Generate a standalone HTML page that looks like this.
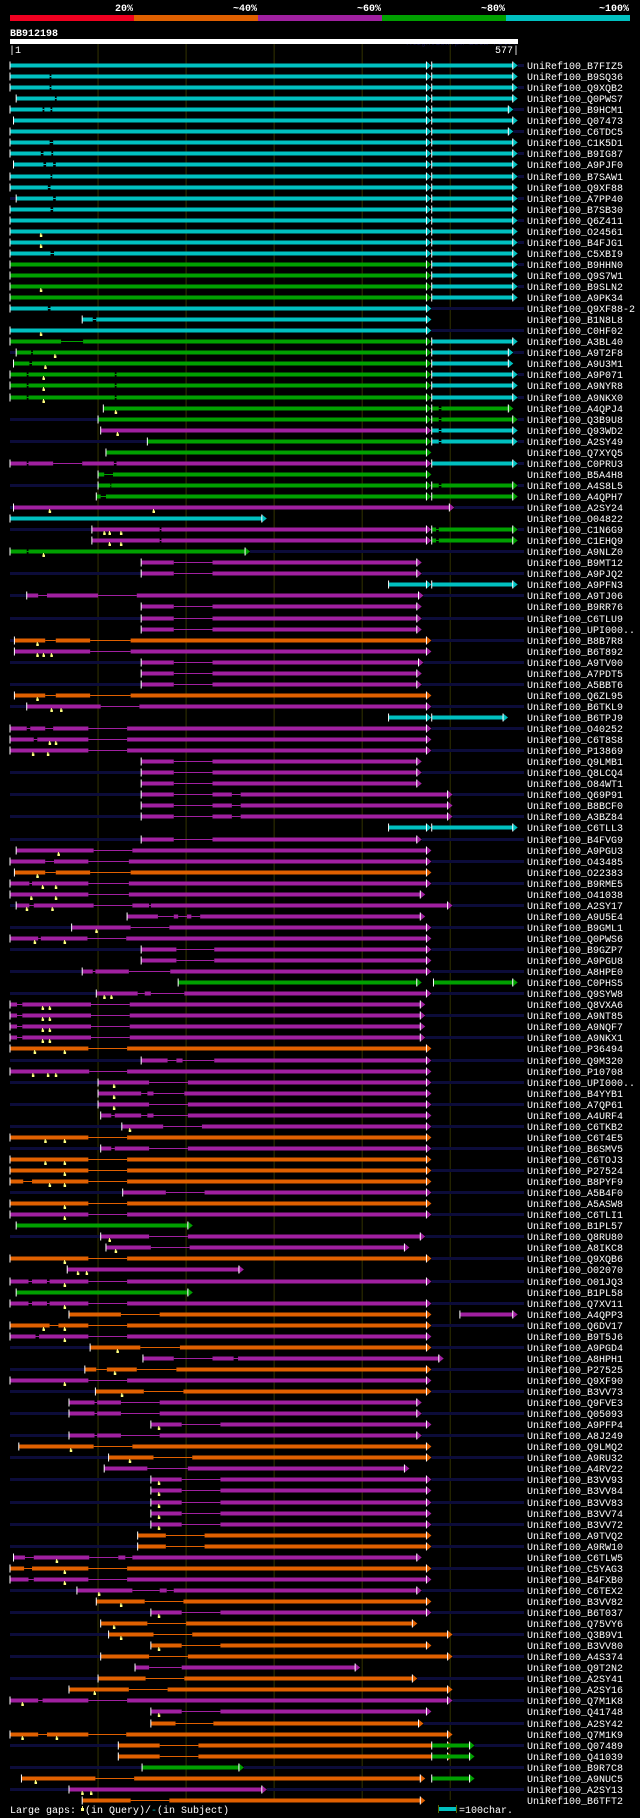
<!DOCTYPE html>
<html><head><meta charset="utf-8">
<style>
html,body{margin:0;padding:0;background:#000;}
svg{display:block;}
text{font-family:"Liberation Mono",monospace;}
</style></head>
<body>
<svg id="chart" width="640" height="1818" viewBox="0 0 640 1818" xmlns="http://www.w3.org/2000/svg">
<rect x="0" y="0" width="640" height="1818" fill="#000"/>
<g>
<rect x="10" y="15" width="124" height="6" fill="#f00020"/>
<rect x="134" y="15" width="124" height="6" fill="#e06000"/>
<rect x="258" y="15" width="124" height="6" fill="#a020a0"/>
<rect x="382" y="15" width="124" height="6" fill="#00a000"/>
<rect x="506" y="15" width="124" height="6" fill="#00c0c0"/>
<text x="133" y="11" fill="#fff" font-size="10" font-weight="bold" text-anchor="end">20%</text>
<text x="257" y="11" fill="#fff" font-size="10" font-weight="bold" text-anchor="end">~40%</text>
<text x="381" y="11" fill="#fff" font-size="10" font-weight="bold" text-anchor="end">~60%</text>
<text x="505" y="11" fill="#fff" font-size="10" font-weight="bold" text-anchor="end">~80%</text>
<text x="629" y="11" fill="#fff" font-size="10" font-weight="bold" text-anchor="end">~100%</text>
</g>
<text x="10" y="36" fill="#fff" font-size="10" font-weight="bold">BB912198</text>
<text x="517" y="45" fill="#101048" font-size="8" text-anchor="end">AlignView.pm Beta rel.7</text>
<rect x="10" y="39" width="508" height="5" fill="#fff"/>
<text x="9" y="53" fill="#fff" font-size="10">|1</text>
<text x="519" y="53" fill="#fff" font-size="10" text-anchor="end">577|</text>
<g id="grid"></g>
<g id="rows"></g>
<g>
<text x="10" y="1813" fill="#fff" font-size="10">Large gaps:</text>
<rect x="82" y="1806" width="1" height="3" fill="#ffff80"/><rect x="81" y="1808" width="3" height="3" fill="#ffff80"/>
<text x="85" y="1813" fill="#fff" font-size="10">(in Query)/</text>
<text x="151" y="1813" fill="#00c0c0" font-size="10">-</text>
<text x="157" y="1813" fill="#fff" font-size="10">(in Subject)</text>
<rect x="438" y="1805" width="1" height="8" fill="#556600"/>
<rect x="439" y="1807" width="18" height="4" fill="#00c0c0"/>
<rect x="456" y="1805" width="1" height="8" fill="#556600"/>
<text x="459" y="1813" fill="#fff" font-size="10">=100char.</text>
</g>
</svg>
<script>
const queryLength = 577;
const gridTicks = [100, 200, 300, 400, 500];
const rowNames = ["B7FIZ5","B9SQ36","Q9XQB2","Q0PWS7","B9HCM1","Q07473","C6TDC5","C1K5D1","B9IG87","A9PJF0","B7SAW1","Q9XF88","A7PP40","B7SB30","Q6Z411","O24561","B4FJG1","C5XBI9","B9HHN0","Q9S7W1","B9SLN2","A9PK34","Q9XF88-2","B1N8L8","C0HF02","A3BL40","A9T2F8","A9U3M1","A9P071","A9NYR8","A9NKX0","A4QPJ4","Q3B9U8","Q93WD2","A2SY49","Q7XYQ5","C0PRU3","B5A4H8","A4S8L5","A4QPH7","A2SY24","O04822","C1N6G9","C1EHQ9","A9NLZ0","B9MT12","A9PJQ2","A9PFN3","A9TJ06","B9RR76","C6TLU9","UPI000..","B8B7R8","B6T892","A9TV00","A7PDT5","A5BBT6","Q6ZL95","B6TKL9","B6TPJ9","O40252","C6T8S8","P13869","Q9LMB1","Q8LCQ4","O84WT1","Q69P91","B8BCF0","A3BZ84","C6TLL3","B4FVG9","A9PGU3","O43485","O22383","B9RME5","O41038","A2SY17","A9U5E4","B9GML1","Q0PWS6","B9GZP7","A9PGU8","A8HPE0","C0PHS5","Q9SYW8","Q8VXA6","A9NT85","A9NQF7","A9NKX1","P36494","Q9M320","P10708","UPI000..","B4YYB1","A7QP61","A4URF4","C6TKB2","C6T4E5","B6SMV5","C6TOJ3","P27524","B8PYF9","A5B4F0","A5ASW8","C6TLI1","B1PL57","Q8RU80","A8IKC8","Q9XQB6","O02070","O01JQ3","B1PL58","Q7XV11","A4QPP3","Q6DV17","B9T5J6","A9PGD4","A8HPH1","P27525","Q9XF90","B3VV73","Q9FVE3","Q05093","A9PFP4","A8J249","Q9LMQ2","A9RU32","A4RV22","B3VV93","B3VV84","B3VV83","B3VV74","B3VV72","A9TVQ2","A9RW10","C6TLW5","C5YAG3","B4FXB0","C6TEX2","B3VV82","B6T037","Q75VY6","Q3B9V1","B3VV80","A4S374","Q9T2N2","A2SY41","A2SY16","Q7M1K8","Q41748","A2SY42","Q7M1K9","Q07489","Q41039","B9R7C8","A9NUC5","A2SY13","B6TFT2"];
// subject extent beyond alignment: [left, right]
const rowExtents = [[0,1],[0,0],[0,1],[0,0],[0,1],[0,0],[0,1],[0,0],[0,1],[0,0],[0,1],[0,0],[1,1],[0,0],[0,1],[0,0],[0,1],[0,0],[0,1],[0,0],[0,1],[0,0],[0,1],[0,0],[0,1],[0,0],[1,1],[0,0],[0,1],[0,0],[0,1],[0,0],[1,1],[0,0],[1,1],[0,0],[0,1],[0,0],[1,1],[0,0],[1,1],[0,0],[1,1],[0,0],[0,1],[0,0],[1,1],[0,0],[1,1],[0,0],[1,1],[0,0],[1,1],[0,0],[1,1],[0,0],[1,1],[0,0],[1,1],[0,0],[0,1],[0,0],[0,1],[0,0],[1,1],[0,0],[1,1],[0,0],[1,1],[0,0],[1,1],[0,0],[0,1],[0,0],[0,1],[0,0],[1,1],[0,0],[1,1],[0,0],[1,1],[0,0],[1,1],[0,0],[1,1],[0,0],[1,1],[0,0],[1,1],[0,0],[1,1],[0,0],[1,1],[0,0],[1,1],[0,0],[1,1],[0,0],[1,1],[0,0],[0,1],[0,0],[1,1],[0,0],[0,1],[0,0],[1,1],[0,0],[0,1],[0,0],[0,1],[0,0],[0,1],[0,0],[0,1],[0,0],[1,1],[0,0],[1,1],[0,0],[1,1],[0,0],[1,1],[0,0],[1,1],[0,0],[1,1],[0,0],[1,1],[0,0],[1,1],[0,0],[1,1],[0,0],[1,1],[0,0],[0,1],[0,0],[1,1],[0,0],[1,1],[0,0],[1,1],[0,0],[1,1],[0,0],[1,1],[0,0],[1,1],[0,0],[0,1],[0,0],[1,1],[0,0],[1,1],[0,0],[1,1],[0,0]];
// HSPs per row: [colorKey, qStart, qEnd, gapStart, gapEnd, ...]
const rowHsps = [
[["c",0,473],["c",479,571]],
[["c",0,473,45,47],["c",479,571]],
[["c",0,473,45,47],["c",479,571]],
[["c",7,473,51,53],["c",479,571]],
[["c",0,473,37,39,46,48],["c",479,566]],
[["c",4,473],["c",479,571]],
[["c",0,473],["c",479,566]],
[["c",0,473,45,49],["c",479,571]],
[["c",0,473,35,38,47,49],["c",479,571]],
[["c",4,473,38,41,49,52],["c",479,571]],
[["c",0,473,46,48],["c",479,571]],
[["c",0,473,43,46],["c",479,571]],
[["c",7,473,49,52],["c",479,571]],
[["c",0,473,46,49],["c",479,571]],
[["c",0,473],["c",479,571]],
[["c",0,473],["c",479,571]],
[["c",0,473],["c",479,571]],
[["c",0,473,46,50],["c",479,571]],
[["g",0,473],["c",479,571]],
[["g",0,473],["c",479,571]],
[["g",0,473],["c",479,571]],
[["g",0,473],["c",479,571]],
[["c",0,473,43,46]],
[["c",82,473,94,98]],
[["c",0,473]],
[["g",0,473,58,83],["c",479,571]],
[["g",7,473,24,26],["c",479,566]],
[["g",4,473,22,25],["c",479,566]],
[["g",0,473,19,21,119,121],["c",479,571]],
[["g",0,473,19,21,119,121],["c",479,571]],
[["g",0,473,19,21,119,121],["c",479,571]],
[["g",106,473],["g",479,566,487,490]],
[["g",100,473],["g",479,571,487,490]],
[["m",103,473],["c",479,571,487,490]],
[["g",156,473],["c",479,571,487,490]],
[["g",109,473]],
[["m",0,473,19,21,49,82,118,121],["c",479,571]],
[["g",100,473,107,117]],
[["g",100,473,114,115],["g",479,571,487,490]],
[["g",98,473,103,109],["g",479,571]],
[["m",4,499]],
[["c",0,286]],
[["m",93,473,170,172],["g",479,571,484,487]],
[["m",93,473,170,172],["g",479,571,484,487]],
[["g",0,267,19,21]],
[["m",149,462,186,230]],
[["m",149,462,186,230]],
[["c",430,473],["c",479,571]],
[["m",19,464,32,42,100,144]],
[["m",149,462,186,230]],
[["m",149,462,186,230]],
[["m",149,462,186,230]],
[["o",5,473,40,52,91,137]],
[["m",5,473,91,137]],
[["m",149,464,186,230]],
[["m",149,462,186,230]],
[["m",149,462,186,230]],
[["o",5,473,40,52,91,137]],
[["m",19,473,103,147]],
[["c",430,473],["c",479,560]],
[["m",0,473,19,23,40,49,89,133]],
[["m",0,473,27,31,89,133]],
[["m",0,473,89,133]],
[["m",149,462,186,230]],
[["m",149,462,186,230]],
[["m",149,462,186,230]],
[["m",149,497,186,230,252,262]],
[["m",149,497,186,230,252,262]],
[["m",149,497,186,230,252,262]],
[["c",430,473],["c",479,571]],
[["m",149,462,186,230]],
[["m",7,473,95,139]],
[["m",0,473,40,50,89,135]],
[["o",5,473,40,52,91,137]],
[["m",0,473,22,25,89,135]],
[["m",0,466,89,135]],
[["m",7,497,22,27,95,139,158,160]],
[["m",133,466,168,186,191,201,206,216]],
[["m",70,473,137,181]],
[["m",0,473,32,35,88,132]],
[["m",149,473,189,232]],
[["m",149,473,189,232]],
[["m",82,473,94,97,135,182]],
[["g",191,462],["g",481,571]],
[["m",98,473,145,153,160,198]],
[["m",0,466,8,14,92,136]],
[["m",0,466,8,14,92,136]],
[["m",0,466,8,14,92,136]],
[["m",0,466,8,14,92,136]],
[["o",0,473,89,133]],
[["m",149,473,179,189,196,232]],
[["m",0,473,90,133]],
[["m",100,473,158,202]],
[["m",100,473,149,156,163,198]],
[["m",100,473,158,202]],
[["m",103,473,115,119,149,156,163,202]],
[["m",127,473,174,218]],
[["o",0,473,89,133]],
[["m",103,473,115,119,158,202]],
[["o",0,473,89,133]],
[["o",0,473,89,133]],
[["o",0,473,15,25,89,133]],
[["m",128,473,177,221]],
[["o",0,473,89,133]],
[["m",0,473,89,133]],
[["g",7,202]],
[["m",103,466,158,202]],
[["m",109,448,160,204]],
[["o",0,473,89,133]],
[["m",65,260]],
[["m",0,473,21,25,42,45,89,133]],
[["g",7,202]],
[["m",0,473,21,25,42,45,89,133]],
[["o",67,473,126,170],["m",511,571]],
[["o",0,473,45,55,89,133]],
[["m",0,473,29,33,89,133]],
[["o",91,473,148,193]],
[["m",151,487,186,230,254,259]],
[["o",85,473,98,110,144,189]],
[["m",0,473,89,133]],
[["o",97,473,152,197]],
[["m",67,462,96,99,126,170]],
[["m",67,462,96,99,126,170]],
[["m",160,473,195,239]],
[["m",67,462,96,99,126,170]],
[["o",10,473,95,139]],
[["o",112,473,163,207]],
[["m",107,448,156,202]],
[["m",160,473,195,239]],
[["m",160,473,195,239]],
[["m",160,473,195,239]],
[["m",160,473,195,239]],
[["m",160,473,195,239]],
[["o",145,473,177,221]],
[["o",145,473,177,221]],
[["m",4,462,17,27,90,123,131,139]],
[["o",0,473,16,25,89,133]],
[["m",0,473,21,27,89,133]],
[["m",76,462,139,170,178,186]],
[["o",98,473,153,197]],
[["m",160,473,195,239]],
[["o",103,457,156,200]],
[["o",112,497,163,207]],
[["o",160,473,195,239]],
[["o",103,497,158,202]],
[["m",142,392,158,195]],
[["o",100,457,154,198]],
[["o",67,497,135,179]],
[["m",0,497,32,37,89,133]],
[["m",160,473,195,239]],
[["o",160,464,188,231]],
[["o",0,497,32,42,89,132]],
[["o",123,497,170,214],["g",479,522]],
[["o",123,497,170,214],["g",479,522]],
[["g",150,260]],
[["o",13,466,97,141],["g",479,522]],
[["m",67,286]],
[["o",82,466,137,181]]
];
// large query-gap markers (query residue positions)
const rowMarks = [[],[],[],[],[],[],[],[],[],[],[],[],[],[],[],[35],[35],[],[],[],[35],[],[],[],[35],[],[51],[40],[38],[38],[38],[120],[],[122],[],[],[],[],[],[],[45,163],[],[107,113,126],[113,126],[38],[],[],[],[],[],[],[],[31],[31,38,47],[],[],[],[31],[47,58],[],[],[45,52],[26,43],[],[],[],[],[],[],[],[],[55],[],[31],[37,52],[24,52],[19,48],[],[98],[28,62],[],[],[],[],[107,115],[37,45],[37,45],[37,45],[37,45],[28,62],[],[26,43,52],[118],[118],[118],[],[136],[40,62],[],[40,62],[62],[45,62],[],[62],[62],[],[113],[120],[62],[77,87],[62],[],[62],[],[38,62],[62],[122],[],[119],[62],[127],[],[],[169],[],[69],[136],[],[169],[169],[169],[169],[169],[],[],[53],[62],[62],[101],[126],[169],[118],[126],[169],[],[],[],[96],[14],[169],[],[14,53],[],[],[],[29],[82,92],[]];
const colorMap = {c:"#00c0c0", g:"#00a000", m:"#a020a0", o:"#e06000", r:"#f00020"};

const NS = "http://www.w3.org/2000/svg";
const X0 = 10, X1 = 518, LABEL_X = 527, ROW_Y0 = 65, ROW_PITCH = 11.05;
function xScale(r){ return X0 + r * (X1 - X0) / queryLength; }
function yScale(i){ return ROW_Y0 + i * ROW_PITCH; }
function mk(tag, attrs, parent){
  const el = document.createElementNS(NS, tag);
  for (const k in attrs) el.setAttribute(k, attrs[k]);
  parent.appendChild(el);
  return el;
}

const grid = document.getElementById('grid');
gridTicks.forEach(t => {
  const l = mk('line', {x1:xScale(t), x2:xScale(t), y1:44, y2:1800, stroke:'#333300', 'stroke-width':1}, grid);
  
  
});

const rowsG = document.getElementById('rows');
rowNames.forEach((name, i) => {
  const y = Math.round(yScale(i));
  const g = mk('g', {}, rowsG);
  
  
  const hsps = rowHsps[i] || [];
  const ext = rowExtents[i] || [0,0];
  let minS = 1e9, maxE = -1e9;
  hsps.forEach(h => { minS = Math.min(minS, h[1]); maxE = Math.max(maxE, h[2]); });
  if (ext[0] && minS > 0) mk('rect', {x:X0, y:y-1, width:xScale(minS)-X0, height:3, fill:'#0c0c3a'}, g);
  if (ext[1]) mk('rect', {x:xScale(maxE)+5, y:y-1, width:LABEL_X - 3 - xScale(maxE) - 5, height:3, fill:'#0c0c3a'}, g);
  hsps.forEach(h => {
    const col = colorMap[h[0]];
    const s = h[1], e = h[2];
    const gaps = h.slice(3);
    const seg = mk('g', {}, g);
    
    
    let cur = s;
    for (let k = 0; k < gaps.length; k += 2) {
      mk('rect', {x:xScale(cur), y:y-1.5, width:Math.max(0, xScale(gaps[k]) - xScale(cur)), height:4, fill:col}, seg);
      mk('rect', {x:xScale(gaps[k]), y:y, width:xScale(gaps[k+1]) - xScale(gaps[k]), height:1, fill:col}, seg);
      cur = gaps[k+1];
    }
    mk('rect', {x:xScale(cur), y:y-1.5, width:Math.max(0, xScale(e) - xScale(cur)), height:4, fill:col}, seg);
    const xe = xScale(e);
    mk('polygon', {points:`${xe},${y-3.5} ${xe+5},${y+0.5} ${xe},${y+4.5}`, fill:col}, seg);
    mk('rect', {x:xe-0.5, y:y-3.5, width:1, height:8, fill:'#fff'}, seg);
    mk('rect', {x:xScale(s)-0.5, y:y-3.5, width:1, height:8, fill:'#fff'}, seg);
  });
  (rowMarks[i] || []).forEach(m => {
    const mx = xScale(m);
    mk('rect', {x:mx-0.5, y:y+2, width:1, height:3, fill:'#ffff80'}, g);
    mk('rect', {x:mx-1, y:y+3.5, width:2.5, height:2.5, fill:'#ffff80'}, g);
  });
  const t = mk('text', {x:LABEL_X, y:y+4, fill:'#fff', 'font-size':10}, g);
  t.textContent = 'UniRef100_' + name;
});
</script>
</body></html>
